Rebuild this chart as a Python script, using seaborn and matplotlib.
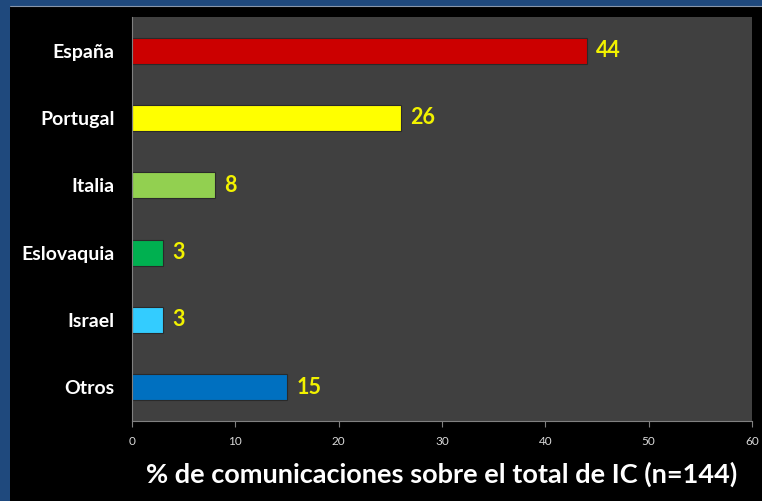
import matplotlib
matplotlib.use("Agg")
import matplotlib.pyplot as plt
import matplotlib.patches as mpatches
import seaborn as sns
import pandas as pd

paises = ["España", "Portugal", "Italia", "Eslovaquia", "Israel", "Otros"]
porcentajes = [44, 26, 8, 3, 3, 15]
colores = ["#CC0000", "#FFFF00", "#92D050", "#00B050", "#33CCFF", "#0070C0"]
ticks_x = [0, 10, 20, 30, 40, 50, 60]

sns.set_theme(style="dark")
plt.rcParams["font.family"] = ["Lato", "DejaVu Sans"]

df = pd.DataFrame({"pais": paises, "pct": porcentajes})

fig = plt.figure(figsize=(7.62, 5.01), dpi=100)
fig.patch.set_facecolor("#1F497D")
# black inner panel with a thin light edge on top
fig.patches.append(mpatches.Rectangle((10 / 762, 0), 1 - 10 / 762, 1 - 6 / 501,
                                      transform=fig.transFigure, facecolor="black",
                                      edgecolor="none", zorder=-10))
fig.lines.append(plt.Line2D([10 / 762, 1], [1 - 5.5 / 501, 1 - 5.5 / 501],
                            transform=fig.transFigure, color="#8896AA", lw=0.8,
                            zorder=-9))

ax = fig.add_axes([132 / 762, 1 - 421 / 501, 620 / 762, 404 / 501])
ax.set_facecolor("#404040")

sns.barplot(data=df, x="pct", y="pais", hue="pais", palette=colores, legend=False,
            orient="h", width=0.39, ax=ax, saturation=1,
            edgecolor="#2a2a2a", linewidth=0.8)

for cont in ax.containers:
    ax.bar_label(cont, labels=[f"{v:g}" for v in cont.datavalues], padding=7,
                 color="#F2F200", fontsize=15.5, fontweight="bold")

ax.set_xlim(0, 60)
ax.set_ylim(5.5, -0.5)
ax.set_xticks(ticks_x)
ax.set_xticklabels([str(t) for t in ticks_x], fontsize=8.5, color="#D9D9D9")
ax.tick_params(axis="x", bottom=True, length=4, width=0.8, color="#808080", pad=7)
ax.tick_params(axis="y", left=False, length=0, pad=12.5)
for lab in ax.get_yticklabels():
    lab.set_color("white")
    lab.set_fontsize(14)
    lab.set_fontweight("bold")
ax.set_ylabel("")
ax.set_xlabel("% de comunicaciones sobre el total de IC (n=144)", color="white",
              fontsize=19.5, fontweight="bold", labelpad=10)
ax.grid(False)
for side in ["top", "right"]:
    ax.spines[side].set_visible(False)
for side in ["left", "bottom"]:
    ax.spines[side].set_visible(True)
    ax.spines[side].set_color("#808080")
    ax.spines[side].set_linewidth(0.8)

fig.savefig("out.png", dpi=100, facecolor=fig.get_facecolor())
